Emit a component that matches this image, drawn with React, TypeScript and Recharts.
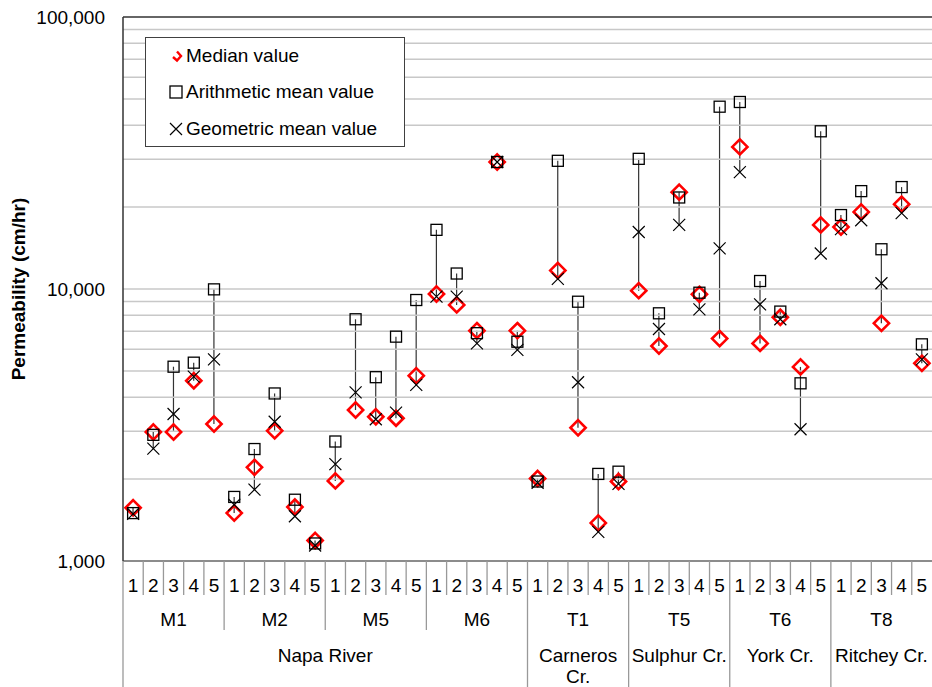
import React from 'react';
import {
  ComposedChart, Bar, Scatter, XAxis, YAxis, ReferenceLine, Legend, Label,
} from 'recharts';

// category numbering, groups and regions along the x axis
const SITE_NUMS = ['1', '2', '3', '4', '5'];
const GROUPS = ['M1', 'M2', 'M5', 'M6', 'T1', 'T5', 'T6', 'T8'];
const REGION_NAMES = ['Napa River', 'Carneros\nCr.', 'Sulphur Cr.', 'York Cr.', 'Ritchey Cr.'];
const REGION_SPANS = [4, 1, 1, 1, 1]; // groups per region

// permeability values (cm/hr), 5 sites per group, in GROUPS order
const medianValues = [
  1570, 2980, 2980, 4600, 3190,
  1500, 2210, 3010, 1580, 1190,
  1970, 3590, 3390, 3350, 4800,
  9590, 8740, 7030, 29300, 7030,
  2010, 11700, 3090, 1380, 1960,
  9860, 6170, 22700, 9560, 6570,
  33300, 6310, 7870, 5170, 17200,
  16900, 19200, 7480, 20500, 5330,
];
const arithMeanValues = [
  1500, 2910, 5180, 5360, 9970,
  1720, 2580, 4130, 1680, 1160,
  2750, 7740, 4740, 6680, 9110,
  16500, 11400, 6880, 29300, 6400,
  1960, 29600, 8980, 2090, 2130,
  30100, 8140, 21700, 9690, 46800,
  48700, 10700, 8260, 4500, 38000,
  18700, 22900, 14000, 23700, 6260,
];
const geoMeanValues = [
  1490, 2590, 3470, 4760, 5510,
  1610, 1830, 3250, 1460, 1140,
  2270, 4170, 3320, 3510, 4440,
  9380, 9380, 6310, 29300, 5970,
  1940, 10900, 4540, 1280, 1920,
  16200, 7130, 17200, 8420, 14100,
  26900, 8780, 7740, 3050, 13500,
  16600, 17900, 10500, 19000, 5510,
];

const Y_TICKS = [1000, 10000, 100000];
const GRID_VALUES = [
  2000, 3000, 4000, 5000, 6000, 7000, 8000, 9000, 10000,
  20000, 30000, 40000, 50000, 60000, 70000, 80000, 90000,
];

const WIDTH = 932;
const HEIGHT = 687;
const MARGIN = { top: 17, right: 0, bottom: 0, left: 0 };
const Y_AXIS_W = 123;
const X_AXIS_H = 126;
const PLOT_BOTTOM = HEIGHT - X_AXIS_H;
const PLOT_W = WIDTH - Y_AXIS_W;
const FONT = '"Liberation Sans", Arial, sans-serif';
const FS = 19;

const data = medianValues.map((m, i) => {
  const a = arithMeanValues[i];
  const g = geoMeanValues[i];
  return {
    id: i,
    median: m,
    arith: a,
    geo: g,
    range: [Math.min(m, a, g), Math.max(m, a, g)],
  };
});

// index where each region starts
const regionStarts: number[] = [];
REGION_SPANS.reduce((acc, s) => { regionStarts.push(acc * 5); return acc + s; }, 0);

const RangeLine = (props: any) => {
  const { x, y, width, height } = props;
  if (x == null || y == null) return null;
  const cx = x + width / 2;
  return <line x1={cx} x2={cx} y1={y} y2={y + height} stroke="#333" strokeWidth={1.2} />;
};

const Diamond = ({ cx, cy }: any) => {
  if (cx == null || cy == null) return null;
  const r = 7.6;
  return (
    <path d={`M${cx},${cy - r}L${cx + r},${cy}L${cx},${cy + r}L${cx - r},${cy}Z`}
      fill="none" stroke="#ff0000" strokeWidth={2.6} />
  );
};

const Square = ({ cx, cy }: any) => {
  if (cx == null || cy == null) return null;
  const h = 5.5;
  return <rect x={cx - h} y={cy - h} width={2 * h} height={2 * h} fill="none" stroke="#000" strokeWidth={1.3} />;
};

const Cross = ({ cx, cy }: any) => {
  if (cx == null || cy == null) return null;
  const h = 6;
  return (
    <path d={`M${cx - h},${cy - h}L${cx + h},${cy + h}M${cx - h},${cy + h}L${cx + h},${cy - h}`}
      stroke="#000" strokeWidth={1.2} />
  );
};

const XTick = (props: any) => {
  const { x, payload } = props;
  const i = payload.value as number;
  const half = payload.offset || PLOT_W / 80;
  const k = i % 5;
  const g = Math.floor(i / 5);
  const left = x - half;
  const parts: React.ReactNode[] = [];

  let depth = 595;
  if (k === 0) depth = regionStarts.includes(i) ? HEIGHT : 630;
  parts.push(<line key="sep" x1={left} x2={left} y1={PLOT_BOTTOM} y2={depth} stroke="#999" strokeWidth={1.3} />);

  parts.push(
    <text key="n" x={x} y={585} textAnchor="middle" dominantBaseline="central" fontSize={FS} fill="#000">
      {SITE_NUMS[k]}
    </text>,
  );
  if (k === 2) {
    parts.push(
      <text key="g" x={x} y={619} textAnchor="middle" dominantBaseline="central" fontSize={FS} fill="#000">
        {GROUPS[g]}
      </text>,
    );
  }
  REGION_NAMES.forEach((name, r) => {
    const c = regionStarts[r] + (REGION_SPANS[r] * 5) / 2;
    if (Math.floor(c) !== i) return;
    const cx = x + (c - Math.floor(c) - 0.5) * 2 * half;
    name.split('\n').forEach((ln, j) => {
      parts.push(
        <text key={`r${j}`} x={cx} y={655 + j * 21} textAnchor="middle" dominantBaseline="central" fontSize={FS} fill="#000">
          {ln}
        </text>,
      );
    });
  });
  return <g>{parts}</g>;
};

const YLabel = (props: any) => {
  const vb = props.viewBox || {};
  const cy = (vb.y ?? MARGIN.top) + (vb.height ?? PLOT_BOTTOM - MARGIN.top) / 2;
  return (
    <text x={18} y={cy} transform={`rotate(-90, 18, ${cy})`} textAnchor="middle" dominantBaseline="central"
      fontSize={FS} fontWeight="bold" fill="#000">
      Permeability (cm/hr)
    </text>
  );
};

const legendItems = [
  { label: 'Median value', icon: 'diamond' },
  { label: 'Arithmetic mean value', icon: 'square' },
  { label: 'Geometric mean value', icon: 'cross' },
];

const LegendIcon = ({ kind }: { kind: string }) => (
  <svg width={16} height={16} style={{ display: 'block' }}>
    {kind === 'diamond' && (
      <path d="M9,3.5L13,8L9,12.5L5,9" fill="none" stroke="#ff0000" strokeWidth={2.4} />
    )}
    {kind === 'square' && <rect x={2} y={2} width={12} height={12} fill="none" stroke="#000" strokeWidth={1.3} />}
    {kind === 'cross' && <path d="M2,2L14,14M2,14L14,2" stroke="#000" strokeWidth={1.2} />}
  </svg>
);

const LegendBox = () => (
  <div style={{
    width: 260, height: 110, boxSizing: 'border-box', border: '1.5px solid #404040',
    background: '#fff', fontFamily: FONT, fontSize: FS, color: '#000',
  }}>
    {legendItems.map((it) => (
      <div key={it.label} style={{ display: 'flex', alignItems: 'center', height: 36.3, paddingLeft: 22 }}>
        <LegendIcon kind={it.icon} />
        <span style={{ marginLeft: 2, whiteSpace: 'nowrap' }}>{it.label}</span>
      </div>
    ))}
  </div>
);

export default function App() {
  return (
    <div style={{ position: 'absolute', left: 0, top: 0, fontFamily: FONT, background: '#fff' }}>
      <ComposedChart width={WIDTH} height={HEIGHT} data={data} margin={MARGIN}>
        {GRID_VALUES.map((v) => (
          <ReferenceLine key={v} y={v} stroke="#c8c8c8" strokeWidth={1.5} />
        ))}
        <ReferenceLine y={100000} stroke="#333" strokeWidth={1.5} />
        <XAxis
          dataKey="id"
          type="category"
          height={X_AXIS_H}
          interval={0}
          tickLine={false}
          axisLine={{ stroke: '#666', strokeWidth: 1.3 }}
          tick={<XTick />}
        />
        <YAxis
          scale="log"
          domain={[1000, 100000]}
          allowDataOverflow
          ticks={Y_TICKS}
          width={Y_AXIS_W}
          tickLine={false}
          tickSize={0}
          tickMargin={18}
          axisLine={{ stroke: '#333', strokeWidth: 1.5 }}
          tick={{ fontSize: FS, fill: '#000', fontFamily: FONT }}
          tickFormatter={(v: number) => v.toLocaleString('en-US')}
          label={<Label content={<YLabel />} />}
        />
        <Bar dataKey="range" shape={<RangeLine />} isAnimationActive={false} legendType="none" />
        <Scatter dataKey="median" name="Median value" shape={<Diamond />} isAnimationActive={false} />
        <Scatter dataKey="arith" name="Arithmetic mean value" shape={<Square />} isAnimationActive={false} />
        <Scatter dataKey="geo" name="Geometric mean value" shape={<Cross />} isAnimationActive={false} />
        <Legend
          layout="vertical"
          align="center"
          verticalAlign="middle"
          content={<LegendBox />}
          wrapperStyle={{ position: 'absolute', left: 145, top: 37, width: 260, height: 110 }}
        />
      </ComposedChart>
    </div>
  );
}
